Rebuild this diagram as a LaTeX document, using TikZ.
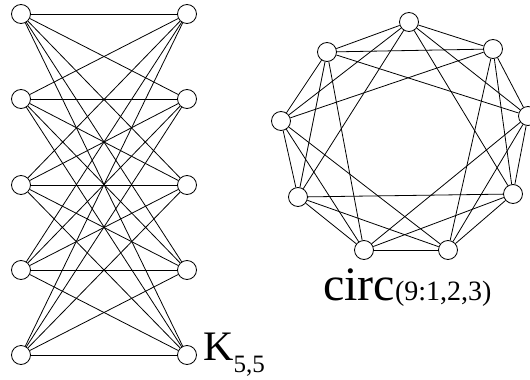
\documentclass[tikz,border=0pt]{standalone}
\usepackage{fontspec}
\setmainfont{Liberation Serif}

\begin{document}
\begin{tikzpicture}[x=1pt, y=-1pt,
  vert/.style={circle, draw, fill=white, minimum size=19pt, inner sep=0pt, line width=0.8pt},
  edge/.style={line width=0.8pt},
  lbl/.style={anchor=base west, inner sep=0pt}
]
  \useasboundingbox (0,0) rectangle (530,380);

  % K_{5,5}
  \foreach \i/\y in {1/14, 2/99, 3/185, 4/270, 5/355} {
    \node[vert] (l\i) at (21,\y) {};
    \node[vert] (r\i) at (187,\y) {};
  }
  \foreach \i in {1,...,5}
    \foreach \j in {1,...,5}
      \draw[edge] (l\i) -- (r\j);

  % circulant graph
  \foreach \k/\x/\y in {0/409/22, 1/493/49, 2/528/116, 3/513/194, 4/448/250,
                        5/364/250, 6/298/197, 7/281/121, 8/327/52}
    \node[vert] (c\k) at (\x,\y) {};
  \foreach \k in {0,...,8}
    \foreach \s in {1,2,3} {
      \pgfmathtruncatemacro{\m}{mod(\k+\s,9)}
      \draw[edge] (c\k) -- (c\m);
    }

  % Labels
  \node[lbl] (klabel) at (203,360)
    {\fontsize{42}{44}\selectfont K\raisebox{-12pt}{\fontsize{25}{25}\selectfont 5,5}};
  \node[lbl] (circlabel) at (323,300)
    {\fontsize{48}{50}\selectfont circ\fontsize{28}{30}\selectfont(9:1,2,3)};
\end{tikzpicture}
\end{document}
